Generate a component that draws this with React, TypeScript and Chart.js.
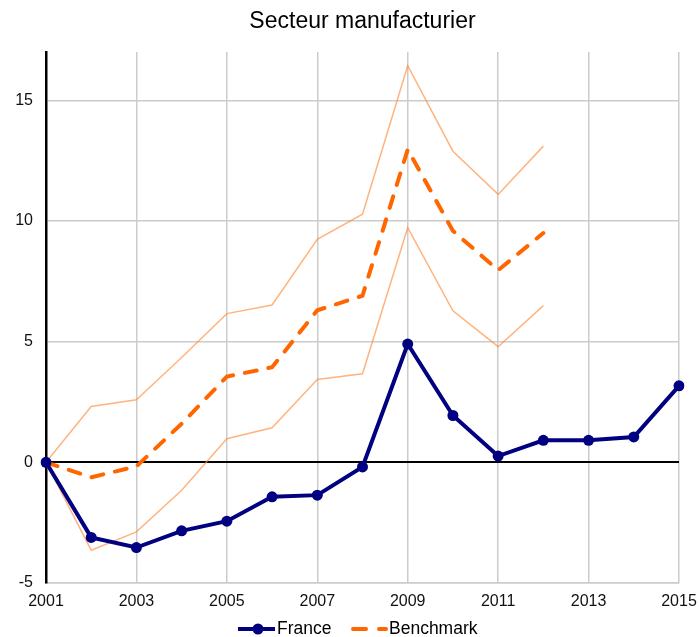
import React, { useEffect, useRef } from "react";
import { Chart, registerables } from "chart.js";

Chart.register(...registerables);

const years = ["2001","2002","2003","2004","2005","2006","2007","2008","2009","2010","2011","2012","2013","2014","2015"];
const france = [0, -3.11, -3.53, -2.84, -2.44, -1.43, -1.36, -0.19, 4.9, 1.94, 0.26, 0.91, 0.91, 1.05, 3.17];
const benchmark = [0, -0.62, -0.17, 1.6, 3.55, 3.94, 6.3, 6.9, 12.96, 9.59, 7.96, 9.5, null, null, null];
const benchUpper = [0, 2.31, 2.59, 4.34, 6.16, 6.52, 9.24, 10.28, 16.43, 12.89, 11.1, 13.1, null, null, null];
const benchLower = [0, -3.64, -2.88, -1.16, 0.98, 1.43, 3.43, 3.67, 9.72, 6.28, 4.79, 6.49, null, null, null];
const yTicks = [-5, 0, 5, 10, 15];
const titleText = "Secteur manufacturier";
const legendLabels = ["France", "Benchmark"];

const FONT = "'Liberation Sans', Arial, Helvetica, sans-serif";

const overlayPlugin = {
  id: "overlay",
  afterDraw(chart: any) {
    const ctx = chart.ctx;
    const area = chart.chartArea;
    ctx.save();
    ctx.fillStyle = "#000";
    ctx.font = `23px ${FONT}`;
    ctx.textAlign = "center";
    ctx.textBaseline = "middle";
    ctx.fillText(titleText, (area.left + area.right) / 2, 22);
    const ly = 629;
    ctx.font = `17.5px ${FONT}`;
    ctx.textAlign = "left";
    ctx.strokeStyle = "#000080";
    ctx.lineWidth = 4;
    ctx.beginPath();
    ctx.moveTo(238, ly);
    ctx.lineTo(275, ly);
    ctx.stroke();
    ctx.fillStyle = "#000080";
    ctx.beginPath();
    ctx.arc(258, ly, 5.5, 0, Math.PI * 2);
    ctx.fill();
    ctx.fillStyle = "#000";
    ctx.fillText(legendLabels[0], 277, ly);
    ctx.strokeStyle = "#FF6600";
    ctx.lineWidth = 4;
    ctx.lineCap = "round";
    ctx.beginPath();
    ctx.moveTo(353, ly);
    ctx.lineTo(366, ly);
    ctx.moveTo(379, ly);
    ctx.lineTo(386, ly);
    ctx.stroke();
    ctx.fillStyle = "#000";
    ctx.fillText(legendLabels[1], 389, ly);
    ctx.restore();
  },
};

export default function App() {
  const ref = useRef<HTMLCanvasElement>(null);
  useEffect(() => {
    document.body.style.margin = "0";
    const canvas = ref.current!;
    const chart = new Chart(canvas, {
      type: "line",
      data: {
        labels: years,
        datasets: [
          {
            label: "France",
            data: france,
            borderColor: "#000080",
            backgroundColor: "#000080",
            borderWidth: 4,
            pointRadius: 5.5,
            pointBorderWidth: 0,
            pointBackgroundColor: "#000080",
            tension: 0,
          },
          {
            label: "Benchmark",
            data: benchmark as any,
            borderColor: "#FF6600",
            borderWidth: 4,
            borderDash: [12, 12],
            borderCapStyle: "round",
            pointRadius: 0,
            spanGaps: false,
          },
          {
            label: "upper",
            data: benchUpper as any,
            borderColor: "rgba(255,140,60,0.65)",
            borderWidth: 1.5,
            pointRadius: 0,
          },
          {
            label: "lower",
            data: benchLower as any,
            borderColor: "rgba(255,140,60,0.65)",
            borderWidth: 1.5,
            pointRadius: 0,
          },
        ],
      },
      options: {
        animation: false,
        responsive: false,
        layout: { padding: { top: 52, right: 20, left: 0, bottom: 0 } },
        plugins: {
          legend: { display: false },
          title: { display: false },
          tooltip: { enabled: false },
        },
        scales: {
          x: {
            type: "category",
            offset: false,
            afterFit: (s: any) => {
              s.height = 54;
              s.paddingLeft = 0;
              s.paddingRight = 0;
            },
            grid: { color: "#cccccc", lineWidth: 1.5, drawTicks: false },
            border: { color: "#cccccc", width: 1.5 },
            ticks: {
              autoSkip: false,
              maxRotation: 0,
              padding: 9,
              color: "#111",
              font: { family: FONT, size: 16 },
              callback: function (this: any, v: any, i: number) {
                return i % 2 === 0 ? years[i] : null;
              },
            },
          },
          y: {
            type: "linear",
            min: -5,
            max: 17,
            afterFit: (s: any) => {
              s.width = 46;
              s.paddingTop = 0;
              s.paddingBottom = 0;
            },
            grid: {
              drawTicks: false,
              color: (c: any) => (c.tick && c.tick.value === 0 ? "#000" : "#cccccc"),
              lineWidth: (c: any) => (c.tick && c.tick.value === 0 ? 2 : 1.5),
            },
            border: { color: "#000", width: 2.5 },
            ticks: {
              stepSize: 5,
              padding: 13,
              color: "#111",
              font: { family: FONT, size: 16 },
              callback: (v: any) => (yTicks.includes(Number(v)) ? String(v) : null),
            },
          },
        },
      },
      plugins: [overlayPlugin],
    });
    return () => chart.destroy();
  }, []);
  return <canvas ref={ref} width={699} height={637} style={{ display: "block" }} />;
}
